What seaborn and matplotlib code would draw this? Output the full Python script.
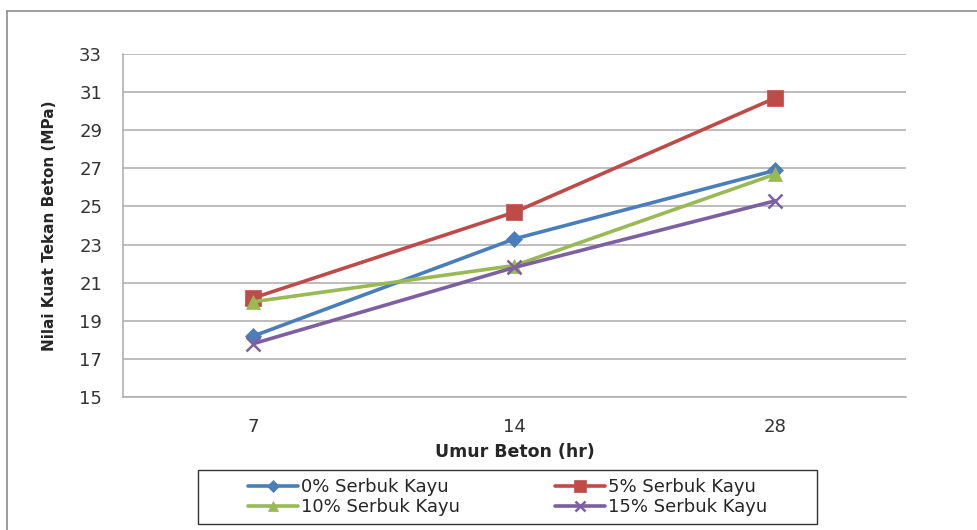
import matplotlib
matplotlib.use("Agg")
import matplotlib.pyplot as plt
import seaborn as sns
from matplotlib.lines import Line2D
from matplotlib.patches import Rectangle

# data
umur = ["7", "14", "28"]
s0 = [18.2, 23.3, 26.9]
s5 = [20.2, 24.7, 30.7]
s10 = [20.0, 21.9, 26.7]
s15 = [17.8, 21.8, 25.3]
labels = ["0% Serbuk Kayu", "5% Serbuk Kayu", "10% Serbuk Kayu", "15% Serbuk Kayu"]

colors = ["#4A7EBB", "#BE4B48", "#98B954", "#7D60A0"]
markers = ["D", "s", "^", "x"]
msizes = [8, 12, 10, 10]

sns.set_style("white")
plt.rcParams['font.family'] = ['DejaVu Sans']

fig = plt.figure(figsize=(9.77, 5.30), dpi=100)
ax = fig.add_axes([0.1259, 0.251, 0.8014, 0.647])

for vals, lab, c, m, ms in zip([s0, s5, s10, s15], labels, colors, markers, msizes):
    sns.lineplot(x=umur, y=vals, ax=ax, color=c, marker=m, markersize=ms,
                 linewidth=2.6, label=lab, sort=False,
                 markeredgecolor=c, markeredgewidth=1.8 if m == "x" else 0.5)

ax.set_ylim(15, 33)
ax.set_yticks(range(15, 34, 2))
ax.set_xlim(-0.5, 2.5)
ax.yaxis.grid(True, color="#ABABAB", linewidth=1.1)
ax.set_axisbelow(True)
for side in ["top", "right"]:
    ax.spines[side].set_visible(False)
for side in ["left", "bottom"]:
    ax.spines[side].set_color("#ABABAB")
    ax.spines[side].set_linewidth(1.1)
ax.tick_params(axis="y", length=0, pad=15, labelsize=13, labelcolor="#333333")
ax.tick_params(axis="x", length=0, pad=15, labelsize=13, labelcolor="#333333")

ax.set_xlabel("Umur Beton (hr)", fontsize=12.5, fontweight="bold", labelpad=5)
ax.set_ylabel("Nilai Kuat Tekan Beton (MPa)", fontsize=11, fontweight="bold", labelpad=16)

ax.get_legend().remove()
handles, labs = ax.get_legend_handles_labels()
order = [0, 2, 1, 3]
leg = fig.legend([handles[i] for i in order], [labs[i] for i in order],
                 ncol=2, loc="center", bbox_to_anchor=(507.5 / 977, 1 - 497 / 530),
                 fontsize=13, frameon=False,
                 handlelength=2.75, handletextpad=0.15, columnspacing=5.3,
                 borderpad=0, labelspacing=0.1)
# smaller markers in the legend, as in the reference
for h in leg.legend_handles:
    h.set_markersize(h.get_markersize() * 0.72)

# legend box
fig.add_artist(Rectangle((198 / 977, 1 - 524 / 530), 619 / 977, 54 / 530,
                         transform=fig.transFigure, fill=False,
                         edgecolor="#333333", linewidth=1.0))

# outer chart border
fig.add_artist(Line2D([7 / 977, 7 / 977], [0, 1 - 11 / 530], transform=fig.transFigure,
                      color="#8C8C8C", linewidth=1.2))
fig.add_artist(Line2D([7 / 977, 1], [1 - 11 / 530, 1 - 11 / 530], transform=fig.transFigure,
                      color="#8C8C8C", linewidth=1.2))

fig.savefig("out.png", dpi=100)
